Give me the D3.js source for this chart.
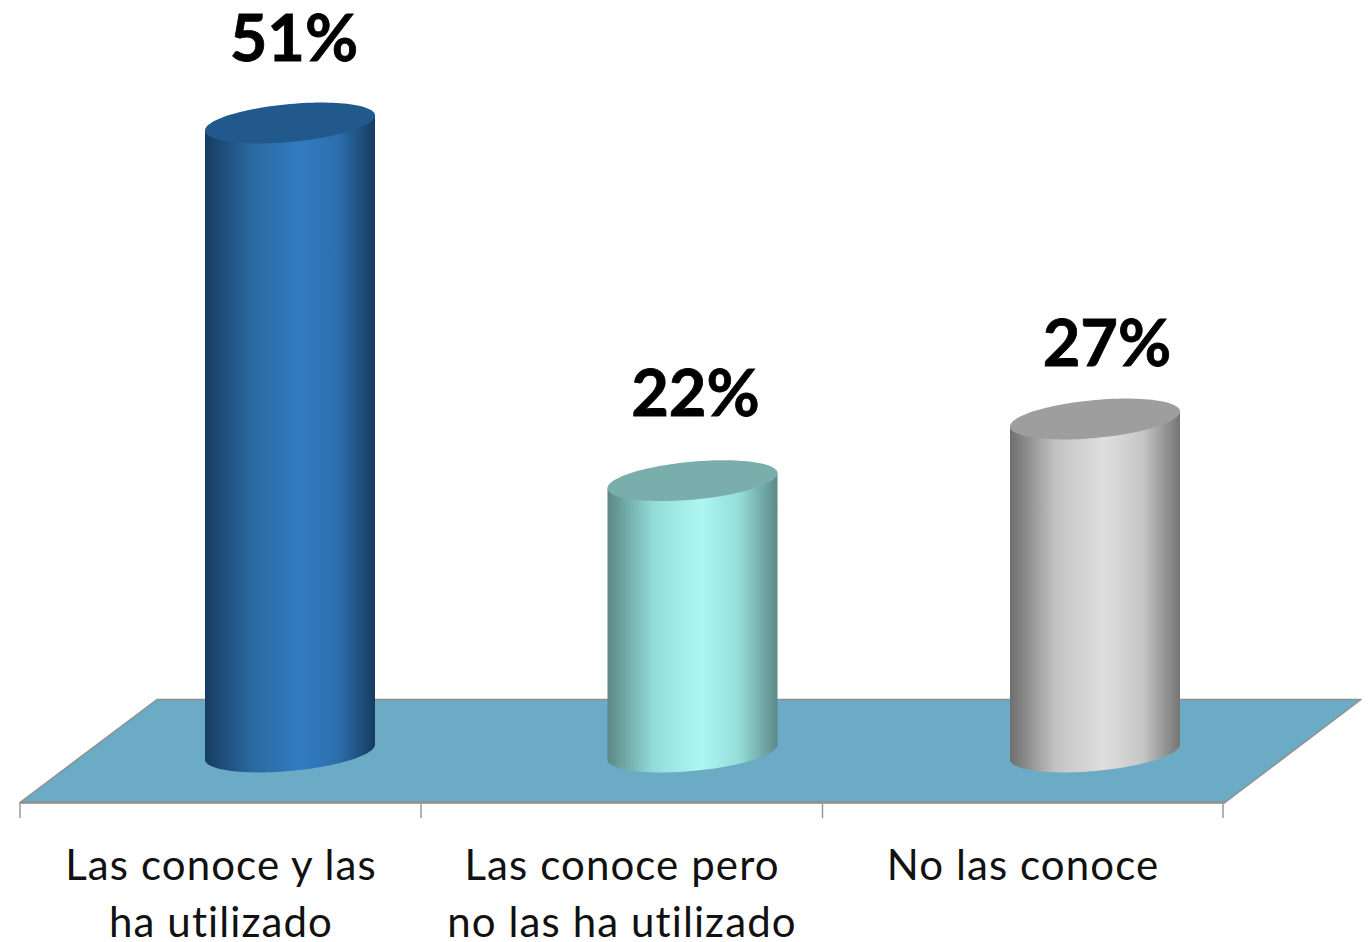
<!DOCTYPE html>
<html><head><meta charset="utf-8">
<script src="https://cdn.jsdelivr.net/npm/d3@7"></script>
<style>html,body{margin:0;padding:0;background:#fff;overflow:hidden}svg{display:block}</style>
</head><body><svg id="c" width="1369" height="942"></svg>
<script>
const categories = [["Las conoce y las","ha utilizado"],["Las conoce pero","no las ha utilizado"],["No las conoce"]];
const values = [51,22,27];
const valueLabels = ["51%","22%","27%"];
const topColors = ["#22598c","#7aaead","#9e9e9e"];
const bodyStops = [
  ["#163c60","#2a689f","#317cc1","#2d6fae","#163c60"],
  ["#5c8886","#92dcd8","#aef6f1","#94dcd8","#5c8886"],
  ["#6e6e6e","#c4c3c4","#dfdedf","#c8c7c8","#747474"]
];
const svg = d3.select("#c");
const x = d3.scaleBand().domain(d3.range(3)).range([20,1223]);
const xBar = d3.scaleBand().domain(d3.range(3)).range([88.75,1296.25]);
const y = d3.scaleLinear().domain([0,60]).range([752,12]);
const rx = 85, ry = 19, skew = 7.5;
const labelShift = [[4,-62],[3,-65],[12,-53]];
const defs = svg.append("defs");
bodyStops.forEach((s,i)=>{
  const g = defs.append("linearGradient").attr("id","g"+i);
  [0,.27,.55,.78,1].forEach((o,j)=>g.append("stop").attr("offset",o).attr("stop-color",s[j]));
});
// floor
const fy0 = 802.5, fy1 = 699.5;
svg.append("path").attr("d",d3.line()([[20,fy0],[1225,fy0],[1361,fy1],[157,fy1]])+"Z")
  .attr("fill","#6cabc5").attr("stroke","#8f9090").attr("stroke-width",1.5).attr("stroke-linejoin","round");
svg.append("line").attr("x1",20).attr("x2",1225).attr("y1",fy0).attr("y2",fy0).attr("stroke","#8f8f8f").attr("stroke-width",2.5);
// ticks
[20,421,822.5,1223].forEach(t=>svg.append("line").attr("x1",t).attr("x2",t).attr("y1",fy0).attr("y2",818).attr("stroke","#9a9a9a").attr("stroke-width",1.5));
// cylinders
const pt=(cx,cy,t)=>[cx+rx*Math.cos(t), cy-skew*Math.cos(t)+ry*Math.sin(t)];
values.forEach((v,i)=>{
  const cx = xBar(i)+xBar.bandwidth()/2, top=y(v), base=y(0);
  const arc = d3.range(0,181,3).map(d=>pt(cx,base,d*Math.PI/180));
  const body = [...arc,[cx-rx,top+skew],[cx+rx,top-skew]];
  svg.append("path").attr("d",d3.line()(body)+"Z").attr("fill",`url(#g${i})`);
  const ell = d3.range(0,360,3).map(d=>pt(cx,top,d*Math.PI/180));
  svg.append("path").attr("d",d3.line()(ell)+"Z").attr("fill",topColors[i]);
  svg.append("text").attr("x",cx+labelShift[i][0]).attr("y",top+labelShift[i][1]).attr("text-anchor","middle")
    .attr("font-family","Lato, 'Open Sans', sans-serif").attr("font-weight",700).attr("font-size",65)
    .attr("stroke","#000").attr("stroke-width",0.8).attr("fill","#000").text(valueLabels[i]);
  const t = svg.append("text").attr("text-anchor","middle").attr("font-family","Lato, 'Open Sans', sans-serif")
    .attr("font-size",42).attr("letter-spacing",1.1).attr("fill","#111");
  categories[i].forEach((line,k)=>t.append("tspan").attr("x",x(i)+x.bandwidth()/2+0.5).attr("y",880+k*57).text(line));
});
</script></body></html>
